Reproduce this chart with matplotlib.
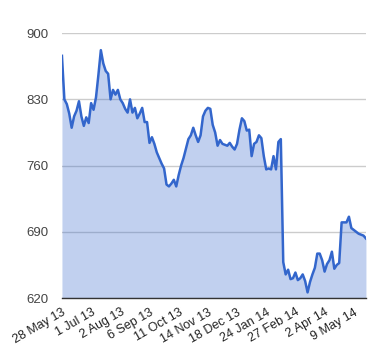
import matplotlib.pyplot as plt
import numpy as np

plt.rcParams['font.family'] = ['Liberation Sans', 'DejaVu Sans']

# closing values, one every 2 trading days from 28 May 13
values = [876, 830, 825, 815, 800, 812, 818, 828, 812, 802,
          811, 805, 826, 819, 832, 856, 882, 868, 860, 857,
          830, 840, 835, 840, 830, 826, 820, 816, 830, 816,
          821, 810, 815, 821, 806, 806, 784, 790, 783, 774,
          768, 762, 757, 740, 738, 741, 745, 738, 750, 760,
          768, 778, 788, 792, 800, 792, 785, 792, 812, 818,
          821, 820, 803, 795, 781, 787, 783, 782, 781, 784,
          780, 777, 783, 798, 810, 807, 797, 798, 770, 783,
          785, 792, 789, 770, 756, 757, 756, 770, 756, 785,
          788, 658, 645, 650, 640, 641, 647, 639, 641, 645,
          638, 626, 637, 645, 652, 667, 667, 660, 648, 656,
          660, 669, 651, 655, 657, 700, 700, 700, 706, 694,
          692, 690, 688, 687, 686, 683]
days_per_sample = 2

tick_labels = ['28 May 13', '1 Jul 13', '2 Aug 13', '6 Sep 13', '11 Oct 13',
               '14 Nov 13', '18 Dec 13', '24 Jan 14', '27 Feb 14', '2 Apr 14',
               '9 May 14']
days_per_label = 24

y_ticks = [620, 690, 760, 830, 900]

x = np.arange(len(values)) * days_per_sample

fig = plt.figure(figsize=(3.8, 3.6), dpi=100)
ax = fig.add_axes([0.163, 0.172, 0.8, 0.736])

ax.fill_between(x, values, y_ticks[0], color='#3366cc', alpha=0.3, linewidth=0)
ax.plot(x, values, color='#3366cc', linewidth=1.8)

ax.set_xlim(x[0], x[-1])
ax.set_ylim(y_ticks[0], y_ticks[-1])
ax.set_yticks(y_ticks)
ax.set_yticklabels([str(v) for v in y_ticks], fontsize=9.5, color='#444444')
ax.yaxis.grid(True, color='#cccccc', linewidth=1)
ax.set_axisbelow(True)

ax.set_xticks(np.arange(len(tick_labels)) * days_per_label)
ax.set_xticklabels(tick_labels, rotation=30, ha='right', rotation_mode='anchor',
                   fontsize=9, color='#222222')
ax.tick_params(axis='both', length=0)
ax.tick_params(axis='y', pad=10)
ax.tick_params(axis='x', pad=6)

for s in ['top', 'right', 'left']:
    ax.spines[s].set_visible(False)
ax.spines['bottom'].set_color('#333333')
ax.spines['bottom'].set_linewidth(1)

fig.savefig('out.png', dpi=100)
